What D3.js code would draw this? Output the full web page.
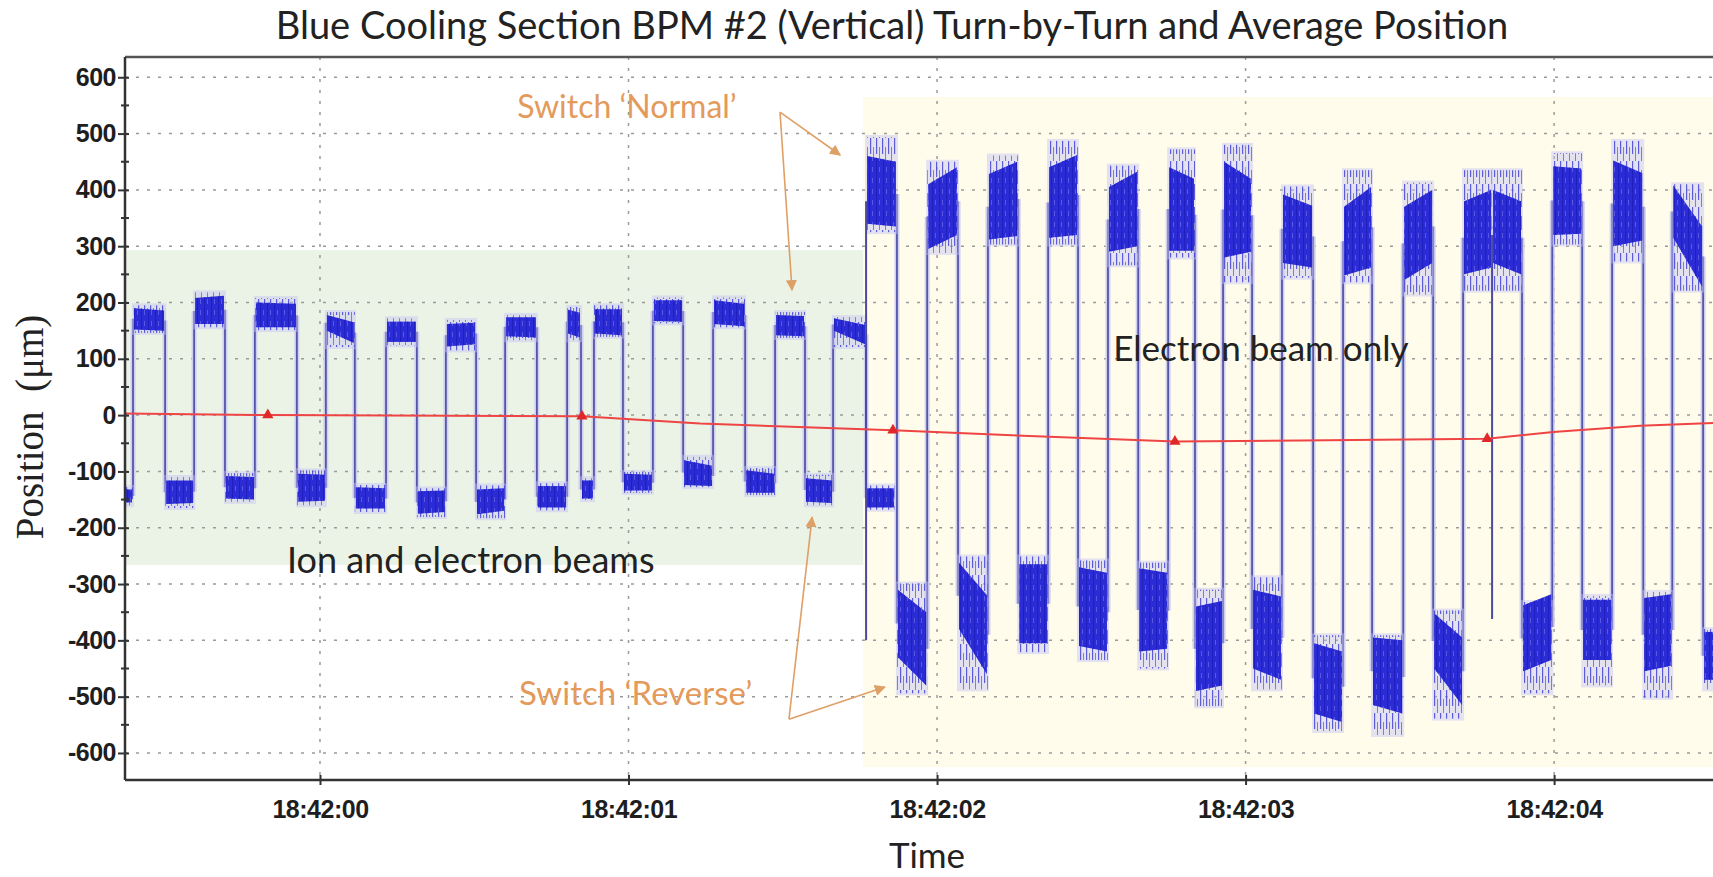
<!DOCTYPE html>
<html>
<head>
<meta charset="utf-8">
<script src="https://cdn.jsdelivr.net/npm/d3@7"></script>
<style>
    body { margin: 0; background: #ffffff; }
    svg { display: block; }
</style>
</head>
<body>
<svg id="chart"></svg>
<script>
// all times are seconds after 18:42:00
var timeDomain = [-0.632, 4.515];
var posDomain = [-648, 636];
var posTicks = [-600, -500, -400, -300, -200, -100, 0, 100, 200, 300, 400, 500, 600];
var posMinorTicks = [-550, -450, -350, -250, -150, -50, 50, 150, 250, 350, 450, 550];
var timeTicks = [0, 1, 2, 3, 4];

// turn-by-turn plateaus: [t0, t1, min, max, coreLoStart, coreHiStart, coreLoEnd, coreHiEnd]
var ionPlateaus = [
    [-0.632, -0.606, -160, -128, -155, -132, -155, -132],
    [-0.606, -0.502, 146, 195, 152, 190, 150, 186],
    [-0.502, -0.408, -165, -110, -158, -116, -156, -116],
    [-0.408, -0.308, 156, 218, 162, 208, 162, 212],
    [-0.308, -0.211, -154, -103, -148, -108, -150, -110],
    [-0.211, -0.075, 151, 208, 156, 200, 156, 198],
    [-0.075, 0.019, -160, -98, -154, -104, -152, -106],
    [0.019, 0.113, 121, 183, 150, 178, 128, 165],
    [0.113, 0.214, -172, -124, -166, -128, -166, -130],
    [0.214, 0.314, 124, 172, 130, 166, 130, 166],
    [0.314, 0.408, -181, -130, -175, -135, -172, -134],
    [0.408, 0.506, 115, 169, 122, 162, 126, 164],
    [0.506, 0.600, -183, -125, -176, -132, -170, -130],
    [0.600, 0.703, 133, 178, 140, 174, 138, 174],
    [0.703, 0.801, -169, -121, -164, -126, -164, -126],
    [0.801, 0.846, 133, 192, 145, 187, 138, 182],
    [0.846, 0.888, -151, -112, -148, -116, -148, -116],
    [0.888, 0.982, 139, 195, 145, 188, 142, 188],
    [0.982, 1.079, -138, -101, -134, -104, -134, -106],
    [1.079, 1.177, 163, 209, 167, 204, 166, 204],
    [1.177, 1.274, -128, -74, -124, -80, -126, -90],
    [1.274, 1.378, 156, 209, 162, 204, 158, 198],
    [1.378, 1.475, -142, -94, -138, -98, -138, -104],
    [1.475, 1.572, 137, 183, 142, 178, 140, 176],
    [1.572, 1.663, -160, -106, -154, -112, -156, -116],
    [1.663, 1.770, 121, 174, 150, 172, 126, 160],
    [1.770, 1.864, -168, -125, -164, -130, -164, -130]
];
var electronPlateaus = [
    [1.770, 1.870, 325, 494, 340, 460, 335, 450],
    [1.870, 1.968, -494, -299, -430, -310, -480, -350],
    [1.968, 2.068, 288, 450, 295, 410, 320, 440],
    [2.068, 2.165, -487, -251, -380, -262, -460, -320],
    [2.165, 2.263, 303, 461, 312, 428, 318, 450],
    [2.263, 2.360, -421, -251, -405, -265, -405, -265],
    [2.360, 2.457, 303, 487, 315, 440, 320, 462],
    [2.457, 2.554, -435, -258, -410, -270, -420, -280],
    [2.554, 2.652, 266, 443, 290, 405, 300, 432],
    [2.652, 2.749, -450, -262, -420, -272, -415, -280],
    [2.749, 2.836, 280, 472, 292, 440, 292, 420],
    [2.836, 2.927, -517, -310, -490, -340, -480, -330],
    [2.927, 3.021, 236, 480, 280, 450, 290, 420],
    [3.021, 3.118, -487, -288, -450, -310, -470, -322],
    [3.118, 3.219, 244, 406, 270, 392, 262, 372],
    [3.219, 3.316, -561, -391, -530, -405, -545, -420],
    [3.316, 3.410, 236, 435, 248, 370, 262, 405],
    [3.410, 3.511, -568, -391, -515, -395, -530, -400],
    [3.511, 3.608, 214, 413, 240, 370, 270, 400],
    [3.608, 3.705, -539, -347, -450, -352, -515, -395],
    [3.705, 3.799, 221, 435, 250, 380, 262, 400],
    [3.799, 3.896, 221, 435, 270, 400, 250, 380],
    [3.896, 3.994, -494, -332, -455, -338, -435, -318],
    [3.994, 4.091, 303, 465, 320, 442, 322, 438],
    [4.091, 4.188, -480, -321, -435, -328, -435, -328],
    [4.188, 4.289, 273, 487, 300, 452, 310, 430],
    [4.289, 4.383, -502, -314, -455, -325, -445, -318],
    [4.383, 4.483, 221, 410, 315, 408, 228, 335],
    [4.483, 4.530, -487, -380, -470, -385, -470, -385]
];
// single-turn excursions: [t, from, to]
var glitches = [
    [1.770, 380, -400],
    [3.799, 320, -362]
];

// average position (red)
var avgTimes = [-0.632, -0.169, 0.849, 1.232, 1.857, 2.204, 2.771, 3.177, 3.783, 3.997, 4.279, 4.515];
var avgValues = [3, 0, -2, -15, -27, -35, -47, -45, -42, -30, -19, -14];
var avgMarkTimes = [-0.169, 0.849, 1.857, 2.771, 3.783];

// shaded regions: [t0, t1, vLow, vHigh]
var ionRegion = [-0.632, 1.760, -266, 293];
var electronRegion = [1.760, 4.515, -625, 565];

// annotation texts at [t, v] (left, baseline)
var noteNames = ["Switch \u2018Normal\u2019", "Switch \u2018Reverse\u2019", "Ion and electron beams", "Electron beam only"];
var noteAnchors = [[0.639, 527], [0.645, -515], [-0.107, -280], [2.571, 96]];
// arrows: [tFrom, vFrom, tTo, vTo]
var arrows = [
    [1.491, 538, 1.686, 462],
    [1.491, 538, 1.530, 222],
    [1.520, -540, 1.595, -181],
    [1.520, -540, 1.831, -483]
];

var W = 1713, H = 877;
var plot = {left: 125, top: 57, right: 1713, bottom: 780};
var base = Date.UTC(2000, 0, 1, 18, 42, 0);
function T(s) { return new Date(base + s * 1000); }

var svg = d3.select('#chart').attr('width', W).attr('height', H);

var x = d3.scaleUtc().domain(timeDomain.map(T)).range([plot.left, plot.right]);
var y = d3.scaleLinear().domain(posDomain).range([plot.bottom, plot.top]);

var defs = svg.append('defs');
defs.append('clipPath').attr('id', 'clip').append('rect')
    .attr('x', plot.left).attr('y', plot.top)
    .attr('width', plot.right - plot.left).attr('height', plot.bottom - plot.top);
// streaky texture for the dense turn-by-turn samples
var pat = defs.append('pattern').attr('id', 'streaks')
    .attr('patternUnits', 'userSpaceOnUse').attr('width', 7).attr('height', 11);
pat.append('rect').attr('x', 1).attr('y', 0).attr('width', 1.2).attr('height', 11).attr('fill', '#1818b0');
pat.append('rect').attr('x', 4).attr('y', 2).attr('width', 1).attr('height', 5).attr('fill', '#7474ee');
var sparse = defs.append('pattern').attr('id', 'sparse')
    .attr('patternUnits', 'userSpaceOnUse').attr('width', 6).attr('height', 23);
sparse.append('rect').attr('x', 0).attr('y', 0).attr('width', 1.2).attr('height', 16).attr('fill', '#3a3ad6');
sparse.append('rect').attr('x', 3).attr('y', 9).attr('width', 1).attr('height', 14).attr('fill', '#6262e2');

var g = svg.append('g').attr('clip-path', 'url(#clip)');

// background regions
function region(r, color) {
    g.append('rect')
        .attr('x', x(T(r[0]))).attr('y', y(r[3]))
        .attr('width', x(T(r[1])) - x(T(r[0])))
        .attr('height', y(r[2]) - y(r[3]))
        .attr('fill', color);
}
region(ionRegion, '#ebf3e7');
region(electronRegion, '#fffcec');

// grid
g.selectAll('.hgrid').data(posTicks).enter().append('line')
    .attr('x1', plot.left).attr('x2', plot.right)
    .attr('y1', function (d) { return y(d); }).attr('y2', function (d) { return y(d); })
    .attr('stroke', '#9a9a9a').attr('stroke-width', 1.5).attr('stroke-dasharray', '3,8');
g.selectAll('.vgrid').data(timeTicks).enter().append('line')
    .attr('x1', function (d) { return x(T(d)); }).attr('x2', function (d) { return x(T(d)); })
    .attr('y1', plot.top).attr('y2', plot.bottom)
    .attr('stroke', '#9a9a9a').attr('stroke-width', 1.5).attr('stroke-dasharray', '3,8');

// turn-by-turn trace
function drawTrace(rows) {
    var lines = g.append('g');
    for (var i = 1; i < rows.length; i++) {
        var a = rows[i - 1], b = rows[i];
        var xa = x(T(a[1]));
        var y1 = y((a[6] + a[7]) / 2), y2 = y((b[4] + b[5]) / 2);
        lines.append('line').attr('x1', xa).attr('x2', xa).attr('y1', y1).attr('y2', y2)
            .attr('stroke', '#cfcff0').attr('stroke-width', 5);
        lines.append('line').attr('x1', xa).attr('x2', xa).attr('y1', y1).attr('y2', y2)
            .attr('stroke', '#5656a8').attr('stroke-width', 1.8);
    }
    var blobs = g.append('g');
    var halo = blobs.selectAll('g.halo').data(rows).enter().append('g');
    halo.append('rect')
        .attr('x', function (d) { return x(T(d[0])) - 1; })
        .attr('width', function (d) { return x(T(d[1])) - x(T(d[0])) + 2; })
        .attr('y', function (d) { return y(d[3]) - 2; })
        .attr('height', function (d) { return y(d[2]) - y(d[3]) + 4; })
        .attr('fill', '#c4c4f2').attr('opacity', 0.45);
    halo.append('rect')
        .attr('x', function (d) { return x(T(d[0])); })
        .attr('width', function (d) { return x(T(d[1])) - x(T(d[0])); })
        .attr('y', function (d) { return y(d[3]); })
        .attr('height', function (d) { return y(d[2]) - y(d[3]); })
        .attr('fill', 'url(#sparse)').attr('opacity', 0.8);
    var core = function (d) {
        var x0 = x(T(d[0])) + 1, x1 = x(T(d[1])) - 1;
        return 'M' + x0 + ',' + y(d[5]) + 'L' + x1 + ',' + y(d[7]) +
            'L' + x1 + ',' + y(d[6]) + 'L' + x0 + ',' + y(d[4]) + 'Z';
    };
    blobs.selectAll('path.core').data(rows).enter().append('path')
        .attr('d', core).attr('fill', '#2c2cd6');
    blobs.selectAll('path.tex').data(rows).enter().append('path')
        .attr('d', core).attr('fill', 'url(#streaks)').attr('opacity', 0.6);
}
drawTrace(ionPlateaus);
drawTrace(electronPlateaus);

g.selectAll('.glitch').data(glitches).enter().append('line')
    .attr('x1', function (d) { return x(T(d[0])); }).attr('x2', function (d) { return x(T(d[0])); })
    .attr('y1', function (d) { return y(d[1]); }).attr('y2', function (d) { return y(d[2]); })
    .attr('stroke', '#4a4aa0').attr('stroke-width', 2);

// average position
var avg = avgTimes.map(function (t, i) { return [t, avgValues[i]]; });
g.append('path').datum(avg)
    .attr('d', d3.line().x(function (d) { return x(T(d[0])); }).y(function (d) { return y(d[1]); }))
    .attr('fill', 'none').attr('stroke', '#ee4444').attr('stroke-width', 2);
var avgAt = d3.scaleLinear().domain(avgTimes).range(avgValues);
g.selectAll('.mark').data(avgMarkTimes).enter().append('path')
    .attr('d', d3.symbol().type(d3.symbolTriangle).size(55))
    .attr('transform', function (t) { return 'translate(' + x(T(t)) + ',' + y(avgAt(t)) + ')'; })
    .attr('fill', '#e02828');

// frame
svg.append('line').attr('x1', plot.left).attr('x2', plot.right).attr('y1', plot.top).attr('y2', plot.top)
    .attr('stroke', '#555555').attr('stroke-width', 2.5);
svg.append('line').attr('x1', plot.left).attr('x2', plot.right).attr('y1', plot.bottom).attr('y2', plot.bottom)
    .attr('stroke', '#333333').attr('stroke-width', 2.5);
svg.append('line').attr('x1', plot.left).attr('x2', plot.left).attr('y1', plot.top).attr('y2', plot.bottom)
    .attr('stroke', '#333333').attr('stroke-width', 2.5);

// axes
var yAxis = svg.append('g').attr('transform', 'translate(' + plot.left + ',0)')
    .call(d3.axisLeft(y).tickValues(posTicks).tickFormat(function (d) { return String(d); })
        .tickSize(7).tickPadding(2));
yAxis.select('.domain').remove();
yAxis.selectAll('.tick line').attr('x2', -7).attr('x1', 4).attr('stroke', '#333').attr('stroke-width', 2);
yAxis.selectAll('text').attr('font-family', '"Liberation Sans", Arial, sans-serif')
    .attr('font-weight', 'bold').attr('font-size', 25).attr('fill', '#1e1e1e').attr('letter-spacing', -0.5);
svg.selectAll('.minor').data(posMinorTicks).enter().append('line')
    .attr('x1', plot.left - 4).attr('x2', plot.left + 4)
    .attr('y1', function (d) { return y(d); }).attr('y2', function (d) { return y(d); })
    .attr('stroke', '#333').attr('stroke-width', 2);

var xAxis = svg.append('g').attr('transform', 'translate(0,' + plot.bottom + ')')
    .call(d3.axisBottom(x).tickValues(timeTicks.map(T)).tickFormat(d3.utcFormat('%H:%M:%S'))
        .tickSize(5).tickPadding(15));
xAxis.select('.domain').remove();
xAxis.selectAll('.tick line').attr('y1', -5).attr('stroke', '#333').attr('stroke-width', 2);
xAxis.selectAll('text').attr('font-family', '"Liberation Sans", Arial, sans-serif')
    .attr('font-weight', 'bold').attr('font-size', 25).attr('fill', '#1e1e1e').attr('letter-spacing', -0.5);

// titles
svg.append('text').attr('x', 892).attr('y', 39).attr('text-anchor', 'middle')
    .attr('font-family', 'Lato, "Open Sans", sans-serif').attr('font-size', 38).attr('fill', '#222')
    .text('Blue Cooling Section BPM #2 (Vertical) Turn-by-Turn and Average Position');
svg.append('text').attr('x', 927).attr('y', 868).attr('text-anchor', 'middle')
    .attr('font-family', 'Lato, "Open Sans", sans-serif').attr('font-size', 35).attr('fill', '#222')
    .text('Time');
svg.append('text').attr('transform', 'translate(43,427) rotate(-90)').attr('text-anchor', 'middle')
    .attr('font-family', '"Liberation Serif", "Times New Roman", serif').attr('font-size', 39).attr('fill', '#222')
    .attr('xml:space', 'preserve')
    .text('Position  (\u03bcm)');

// annotations
var arrowColor = '#dfa066';
defs.append('marker').attr('id', 'head').attr('viewBox', '0 0 10 10')
    .attr('refX', 9).attr('refY', 5).attr('markerWidth', 7).attr('markerHeight', 7)
    .attr('orient', 'auto').attr('markerUnits', 'strokeWidth')
    .append('path').attr('d', 'M0,0L10,5L0,10Z').attr('fill', arrowColor);
svg.selectAll('.arrow').data(arrows).enter().append('line')
    .attr('x1', function (d) { return x(T(d[0])); }).attr('y1', function (d) { return y(d[1]); })
    .attr('x2', function (d) { return x(T(d[2])); }).attr('y2', function (d) { return y(d[3]); })
    .attr('stroke', arrowColor).attr('stroke-width', 1.6).attr('marker-end', 'url(#head)');

var noteColors = ['#e39a5a', '#e39a5a', '#222222', '#222222'];
var noteSizes = [32, 33, 36, 35];
svg.selectAll('.note').data(noteNames).enter().append('text')
    .attr('x', function (d, i) { return x(T(noteAnchors[i][0])); })
    .attr('y', function (d, i) { return y(noteAnchors[i][1]); })
    .attr('font-family', 'Lato, "Open Sans", sans-serif')
    .attr('font-size', function (d, i) { return noteSizes[i]; })
    .attr('fill', function (d, i) { return noteColors[i]; })
    .text(function (d) { return d; });
</script>
</body>
</html>
